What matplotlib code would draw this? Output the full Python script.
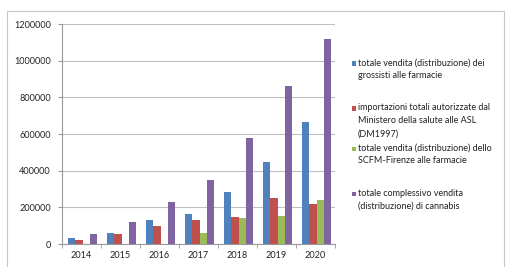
import matplotlib
matplotlib.use("Agg")
import matplotlib.pyplot as plt
import numpy as np
from matplotlib.patches import Rectangle

years = ["2014", "2015", "2016", "2017", "2018", "2019", "2020"]
grossisti = [31000, 60000, 129000, 162000, 284000, 447000, 664000]
importazioni = [24000, 56000, 100000, 129000, 147000, 253000, 216000]
scfm = [0, 0, 0, 62000, 144000, 155000, 240000]
totale = [55000, 118000, 229000, 351000, 576000, 860000, 1120000]

labels = [
    "totale vendita (distribuzione) dei\ngrossisti alle farmacie",
    "importazioni totali autorizzate dal\nMinistero della salute alle ASL\n(DM1997)",
    "totale vendita (distribuzione) dello\nSCFM-Firenze alle farmacie",
    "totale complessivo vendita\n(distribuzione) di cannabis",
]
colors = ["#4F81BD", "#C0504D", "#9BBB59", "#8064A2"]
yticks = [0, 200000, 400000, 600000, 800000, 1000000, 1200000]

plt.rcParams['font.family'] = ['Lato', 'DejaVu Sans']

W, H = 507, 267
fig = plt.figure(figsize=(W / 100, H / 100), dpi=100)
fig.patch.set_facecolor("white")

# outer chart border
fig.patches.append(Rectangle((7 / W, -0.05), 497 / W, 1.05 - 11 / H,
                             transform=fig.transFigure, fill=False,
                             edgecolor="#C8C8C8", linewidth=0.8))

ax = fig.add_axes([62 / W, 1 - 244 / H, (335 - 62) / W, (244 - 24) / H])
x = np.arange(len(years))
bw = 0.186
series = [grossisti, importazioni, scfm, totale]
for i, (s, c) in enumerate(zip(series, colors)):
    ax.bar(x + (i - 1.5) * bw + 0.027, s, width=bw, color=c, zorder=3, linewidth=0)

ax.set_xlim(-0.5, len(years) - 0.5)
ax.set_ylim(0, 1200000)
ax.set_yticks(yticks)
ax.set_yticklabels([str(v) for v in yticks], fontsize=6.6, color="#222222")
ax.set_xticks(x)
ax.set_xticklabels(years, fontsize=6.6, color="#222222")
ax.tick_params(axis="x", length=0, pad=5)
ax.tick_params(axis="y", length=3, color="#999999", pad=5)
ax.set_xticks(np.arange(-0.5, len(years), 1), minor=True)
ax.tick_params(axis="x", which="minor", length=3, color="#999999")
ax.grid(axis="y", color="#BFBFBF", linewidth=0.8, zorder=0)
for side in ["top", "right"]:
    ax.spines[side].set_visible(False)
ax.spines["left"].set_color("#999999")
ax.spines["bottom"].set_color("#999999")
ax.spines["left"].set_linewidth(0.8)
ax.spines["bottom"].set_linewidth(0.8)

# legend
tops = [63, 108, 148, 193]
for lab, c, t in zip(labels, colors, tops):
    fig.patches.append(Rectangle((352 / W, 1 - (t + 2.5) / H), 4 / W, 4 / H,
                                 transform=fig.transFigure, color=c, linewidth=0))
    fig.text(358 / W, 1 - (t - 4.5) / H, lab, fontsize=6.5, color="#222222",
             va="top", ha="left", linespacing=1.55)

fig.savefig("out.png", dpi=100)
